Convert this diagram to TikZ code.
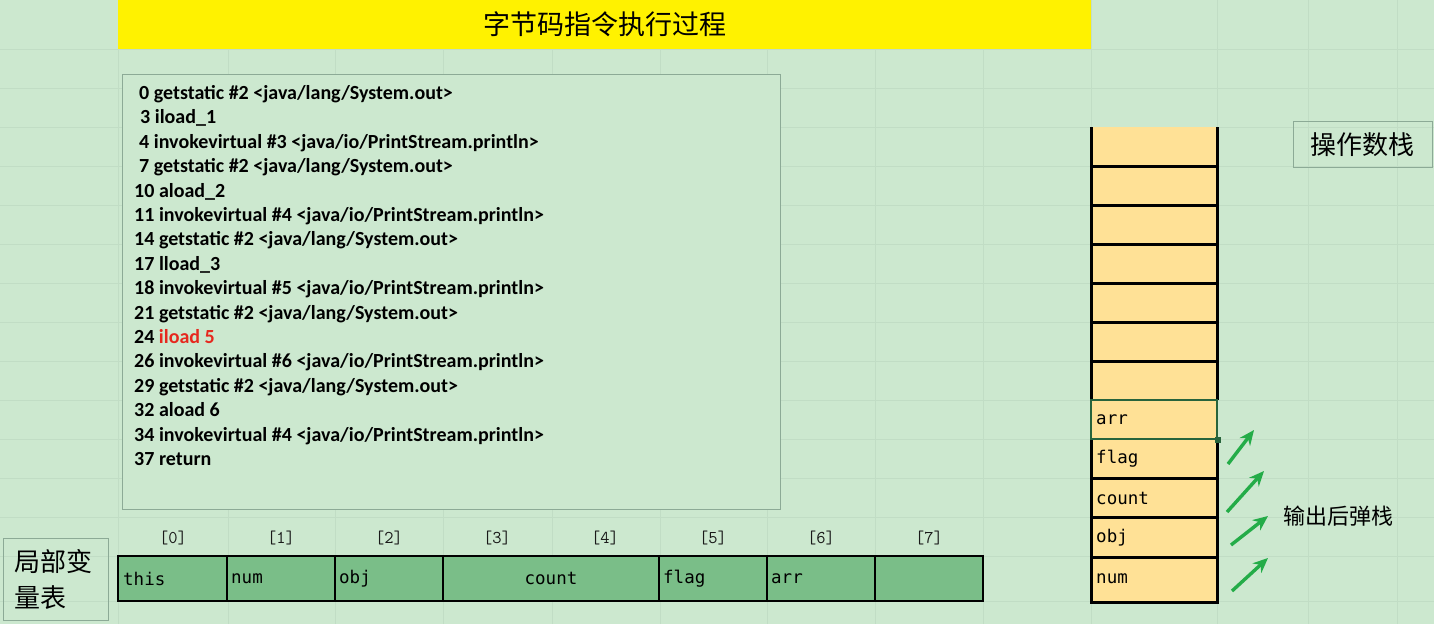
\documentclass[tikz,border=0pt]{standalone}
\usepackage{fontspec}
\setmainfont{Carlito}
\newfontfamily\cjk{Noto Sans CJK SC}
\newfontfamily\monof{DejaVu Sans Mono}
\usetikzlibrary{arrows.meta}
\definecolor{bg}{RGB}{204,232,207}
\definecolor{grid}{RGB}{193,221,197}
\definecolor{titley}{RGB}{255,242,0}
\definecolor{boxline}{RGB}{140,170,150}
\definecolor{cellg}{RGB}{122,190,136}
\definecolor{stackc}{RGB}{255,225,150}
\definecolor{selg}{RGB}{40,100,60}
\definecolor{arrg}{RGB}{36,172,72}
\definecolor{redtxt}{RGB}{230,40,30}
\definecolor{idxc}{RGB}{25,25,25}
\tikzset{
  codeline/.style={anchor=base west, inner sep=0pt, font=\bfseries\fontsize{20}{24}\selectfont},
  lvcell/.style={draw=black, line width=2.5pt, fill=cellg, minimum height=45pt, inner sep=0pt, font=\monof\fontsize{17.5}{20}\selectfont},
  idx/.style={inner sep=0pt, text=idxc, font=\ttfamily\fontsize{18}{20}\selectfont},
  stk/.style={fill=stackc, minimum width=126pt, inner sep=0pt},
  stktxt/.style={anchor=west, inner sep=0pt, font=\monof\fontsize{17.5}{20}\selectfont},
  labbox/.style={draw=boxline, line width=0.8pt, inner sep=0pt},
  popArrow/.style={draw=arrg, line width=3.4pt, -{Stealth[length=15pt,width=13pt]}},
}
\begin{document}
\begin{tikzpicture}[x=1pt,y=-1pt]
\useasboundingbox (0,0) rectangle (1434,624);
\fill[bg] (0,0) rectangle (1434,624);
% faint spreadsheet grid
\foreach \gx in {118,228,335,443,552,660,767,875,983,1091,1217,1308,1397}
  \draw[grid, line width=0.6pt] (\gx,0) -- (\gx,624);
\foreach \gy in {49,88,127,166,205,244,283,322,361,400,439,478,517,556,601}
  \draw[grid, line width=0.6pt] (0,\gy) -- (1434,\gy);

% title
\node[fill=titley, minimum width=973pt, minimum height=49pt, inner sep=0pt, anchor=north west,
      font=\cjk\fontsize{27}{30}\selectfont] (title) at (118,0) {字节码指令执行过程};

% code box
\node[draw=boxline, fill=bg, line width=0.8pt, minimum width=658pt, minimum height=435pt,
      inner sep=0pt, anchor=north west] (code) at (122,74) {};
\node[codeline] (c0)  at (139,99.5)  {0 getstatic \#2 <java/lang/System.out>};
\node[codeline] (c1)  at (140,123.9) {3 iload\_1};
\node[codeline] (c2)  at (139,148.3) {4 invokevirtual \#3 <java/io/PrintStream.println>};
\node[codeline] (c3)  at (139,172.7) {7 getstatic \#2 <java/lang/System.out>};
\node[codeline] (c4)  at (134,197.1) {10 aload\_2};
\node[codeline] (c5)  at (134,221.5) {11 invokevirtual \#4 <java/io/PrintStream.println>};
\node[codeline] (c6)  at (134,245.9) {14 getstatic \#2 <java/lang/System.out>};
\node[codeline] (c7)  at (134,270.3) {17 lload\_3};
\node[codeline] (c8)  at (134,294.7) {18 invokevirtual \#5 <java/io/PrintStream.println>};
\node[codeline] (c9)  at (134,319.1) {21 getstatic \#2 <java/lang/System.out>};
\node[codeline] (c10) at (134,343.5) {24 \textcolor{redtxt}{iload 5}};
\node[codeline] (c11) at (134,367.9) {26 invokevirtual \#6 <java/io/PrintStream.println>};
\node[codeline] (c12) at (134,392.3) {29 getstatic \#2 <java/lang/System.out>};
\node[codeline] (c13) at (134,416.7) {32 aload 6};
\node[codeline] (c14) at (134,441.1) {34 invokevirtual \#4 <java/io/PrintStream.println>};
\node[codeline] (c15) at (134,465.5) {37 return};

% local variable table
\node[labbox, minimum width=105pt, minimum height=82pt, anchor=north west] (lvlab) at (3,538) {};
\node[anchor=west, inner sep=0pt, align=left, font=\cjk\fontsize{26}{36}\selectfont] (lvtxt) at (14,579) {局部变\\量表};

\node[lvcell, minimum width=109pt] (v0) at (172.5,578.5) {};
\node[lvcell, minimum width=108pt] (v1) at (281,578.5) {};
\node[lvcell, minimum width=108pt] (v2) at (389,578.5) {};
\node[lvcell, minimum width=216pt] (v3) at (551,578.5) {count};
\node[lvcell, minimum width=108pt] (v5) at (713,578.5) {};
\node[lvcell, minimum width=108pt] (v6) at (821,578.5) {};
\node[lvcell, minimum width=108pt] (v7) at (929,578.5) {};
\node[stktxt] (t0) at (123,579) {this};
\node[stktxt] (t1) at (231,579) {num};
\node[stktxt] (t2) at (339,579) {obj};
\node[stktxt] (t5) at (663,579) {flag};
\node[stktxt] (t6) at (771,579) {arr};

\node[idx] (i0) at (173,538) {[0]};
\node[idx] (i1) at (281,538) {[1]};
\node[idx] (i2) at (389,538) {[2]};
\node[idx] (i3) at (497,538) {[3]};
\node[idx] (i4) at (605,538) {[4]};
\node[idx] (i5) at (713,538) {[5]};
\node[idx] (i6) at (821,538) {[6]};
\node[idx] (i7) at (929,538) {[7]};

% operand stack
\node[stk, minimum height=474pt, anchor=north west] (stack) at (1091,127) {};
\foreach \sy in {166,205,244,283,322,361,478,517,557}
  \draw[black, line width=3pt] (1091,\sy) -- (1217,\sy);
\draw[black, line width=3pt] (1091,127) -- (1091,400);
\draw[black, line width=3pt] (1217,127) -- (1217,400);
\draw[black, line width=3pt] (1091,439) -- (1091,602.5) -- (1217,602.5) -- (1217,439);
\draw[selg, line width=1.2pt] (1091,400) rectangle (1217,439);
\fill[selg] (1215,437) rectangle (1221,443);
\node[stktxt] (s0) at (1096,420) {arr};
\node[stktxt] (s1) at (1096,459) {flag};
\node[stktxt] (s2) at (1096,498) {count};
\node[stktxt] (s3) at (1096,537.5) {obj};
\node[stktxt] (s4) at (1096,579) {num};

\node[labbox, minimum width=139pt, minimum height=46pt, anchor=north west,
      font=\cjk\fontsize{26}{30}\selectfont] (oplab) at (1293,121) {操作数栈};

% pop arrows
\coordinate (a1s) at (1228,464); \coordinate (a1e) at (1254,430);
\coordinate (a2s) at (1227,512); \coordinate (a2e) at (1264,471);
\coordinate (a3s) at (1231,545); \coordinate (a3e) at (1268,516);
\coordinate (a4s) at (1232,591); \coordinate (a4e) at (1268,558);
\draw[popArrow] (a1s) -- (a1e);
\draw[popArrow] (a2s) -- (a2e);
\draw[popArrow] (a3s) -- (a3e);
\draw[popArrow] (a4s) -- (a4e);
\node[anchor=west, inner sep=0pt, font=\cjk\fontsize{22}{26}\selectfont] (poplab) at (1283,516) {输出后弹栈};
\end{tikzpicture}
\end{document}
